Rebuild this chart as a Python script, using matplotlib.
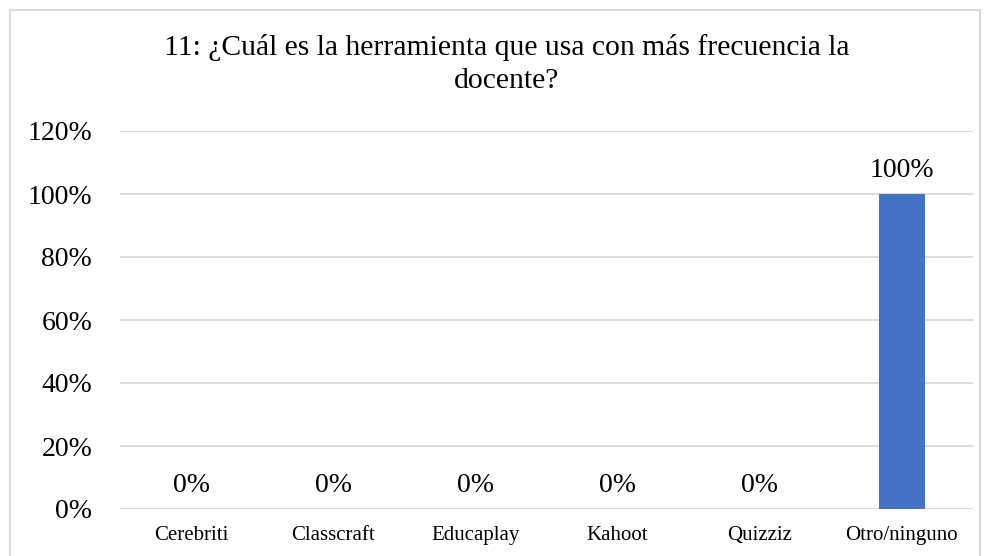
import matplotlib.pyplot as plt
from matplotlib.patches import Rectangle

plt.rcParams['font.family'] = ['Liberation Serif', 'DejaVu Serif']

categories = ['Cerebriti', 'Classcraft', 'Educaplay', 'Kahoot', 'Quizziz', 'Otro/ninguno']
values = [0, 0, 0, 0, 0, 100]
labels = ['0%', '0%', '0%', '0%', '0%', '100%']
yticks = [0, 20, 40, 60, 80, 100, 120]

W, H = 988, 556
fig = plt.figure(figsize=(W / 100, H / 100), dpi=100)
ax = fig.add_axes([120 / W, 1 - 509 / H, 853 / W, 378 / H])

x = range(len(categories))
ax.bar(x, values, width=0.32, color='#4472C4', zorder=3)

for i, v in enumerate(values):
    ax.annotate(labels[i], (i, v), xytext=(0, 12.5), textcoords='offset points',
                ha='center', va='baseline', fontsize=20)

ax.set_xlim(-0.5, len(categories) - 0.5)
ax.set_ylim(0, 120)
ax.set_yticks(yticks)
ax.set_yticklabels([f'{t}%' for t in yticks], fontsize=20)
ax.set_xticks(list(x))
ax.set_xticklabels(categories, fontsize=15)
ax.tick_params(axis='both', length=0)
ax.tick_params(axis='y', pad=20)
ax.tick_params(axis='x', pad=12.5)
ax.grid(axis='y', color='#D9D9D9', linewidth=1.3, zorder=0)
for s in ax.spines.values():
    s.set_visible(False)

fig.text(507 / W, 1 - 34 / H, '11: ¿Cuál es la herramienta que usa con más frecuencia la\ndocente?',
         ha='center', va='top', fontsize=21.3, linespacing=1.36)

fig.patches.append(Rectangle((10 / W, -0.01), 970 / W, 1.01 - 10 / H, transform=fig.transFigure,
                             fill=False, edgecolor='#D9D9D9', linewidth=1.5))

fig.savefig('out.png', dpi=100)
